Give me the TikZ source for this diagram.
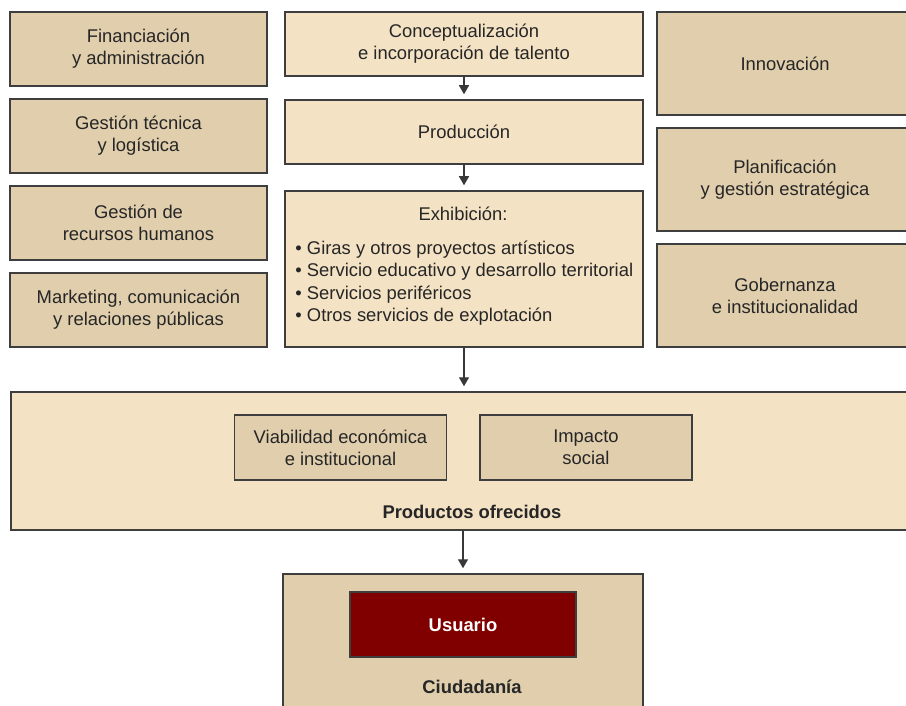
\documentclass[tikz,border=0pt]{standalone}
\usepackage{fontspec}
\setmainfont{Liberation Sans}
\usetikzlibrary{arrows.meta,positioning}
\definecolor{tanDark}{RGB}{224,206,173}
\definecolor{tanLight}{RGB}{244,226,196}
\definecolor{userRed}{RGB}{128,0,0}
\definecolor{edgeGray}{RGB}{62,62,62}

\begin{document}
\begin{tikzpicture}[x=0.5pt,y=-0.5pt,
  box/.style={rectangle,draw=edgeGray,line width=0.75pt,inner sep=0pt,
              align=center,font=\fontsize{9.2}{11}\selectfont,text=black!85},
  side/.style={box,fill=tanDark,minimum width=128.5pt,minimum height=37pt},
  right/.style={box,fill=tanDark,minimum width=126pt,minimum height=51.5pt},
  core/.style={box,fill=tanLight,minimum width=179pt,minimum height=32pt},
  inner/.style={box,fill=tanDark,minimum width=106pt,minimum height=32.5pt},
  txt/.style={inner sep=0pt,font=\fontsize{9.2}{11}\selectfont,text=black!85},
  fl/.style={-{Triangle[length=4.5pt,width=5pt]},line width=0.7pt,edgeGray!90!black,
             shorten >=2.5pt}
]
  \useasboundingbox (0,0) rectangle (906,706);
  % left column
  \node[side](fin)  at (138.5,49)  {Financiación\\y administración};
  \node[side](tec)  at (138.5,136) {Gestión técnica\\y logística};
  \node[side](rrhh) at (138.5,223) {Gestión de\\recursos humanos};
  \node[side](mkt)  at (138.5,310) {Marketing, comunicación\\y relaciones públicas};
  % middle column
  \node[core](conc) at (464,44)  {Conceptualización\\e incorporación de talento};
  \node[core](prod) at (464,132) {Producción};
  \node[core,minimum height=78pt](exh) at (464,269) {};
  \node[txt](exht) at (463,214) {Exhibición:};
  \node[txt,anchor=west,align=left](exhl) at (295,283)
      {• Giras y otros proyectos artísticos\\[0.25pt]
       • Servicio educativo y desarrollo territorial\\[0.25pt]
       • Servicios periféricos\\[0.25pt]
       • Otros servicios de explotación};
  % right column
  \node[right](inno) at (783,63.5)  {};
  \node[txt] (innot) at (785,63.5) {Innovación};
  \node[right](plan) at (783,179.5) {};
  \node[txt,align=center](plant) at (785,179.5) {Planificación\\y gestión estratégica};
  \node[right](gob)  at (783,295.5) {};
  \node[txt,align=center](gobt) at (785,295.5) {Gobernanza\\e institucionalidad};
  % products
  \node[core,minimum width=450pt,minimum height=69pt](prodof) at (461,461) {};
  \node[inner](viab) at (340.5,447.5) {Viabilidad económica\\e institucional};
  \node[inner](imp)  at (586,447.5)   {Impacto\\social};
  \node[txt,font=\fontsize{9.2}{11}\selectfont\bfseries](prodoft) at (472,512) {Productos ofrecidos};
  % citizens
  \node[box,fill=tanDark,minimum width=180pt,minimum height=69pt](ciud) at (463,643) {};
  \node[box,fill=userRed,minimum width=113pt,minimum height=32.5pt,text=white,
        font=\fontsize{9.2}{11}\selectfont\bfseries](usr) at (463,624.5) {Usuario};
  \node[txt,font=\fontsize{9.2}{11}\selectfont\bfseries](ciudt) at (472,687) {Ciudadanía};
  % flow
  \draw[fl](conc)--(prod);
  \draw[fl](prod)--(exh);
  \draw[fl](exh.south)--(exh.south|-prodof.north);
  \draw[fl](prodof.south-|ciud.north)--(ciud);
\end{tikzpicture}
\end{document}
